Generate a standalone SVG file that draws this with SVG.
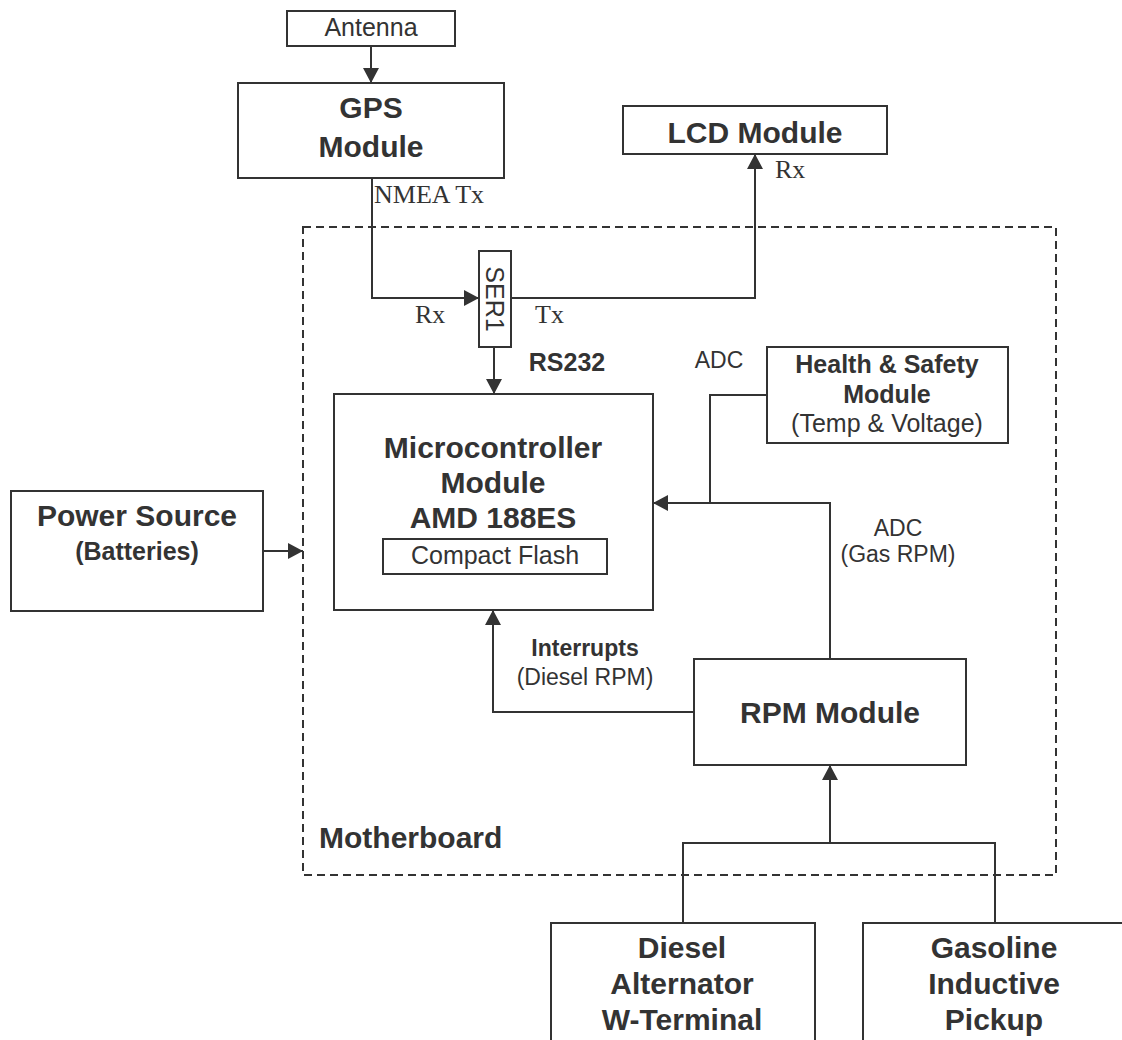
<svg xmlns="http://www.w3.org/2000/svg" width="1122" height="1040" viewBox="0 0 1122 1040">
<style>
.box{fill:#fff;stroke:#333;stroke-width:2}
.ln{fill:none;stroke:#333;stroke-width:2}
.dash{fill:none;stroke:#333;stroke-width:2;stroke-dasharray:8,5}
text{font-family:"Liberation Sans",Arial,sans-serif;fill:#333;text-anchor:middle}
.b{font-weight:bold;font-size:30px}
.bs{font-weight:bold;font-size:25px}
.r{font-size:25px}
.rs{font-size:23px}
.s{font-family:"Liberation Serif","Times New Roman",serif;font-size:26px;text-anchor:start}
</style>
<defs>
<marker id="ah" markerUnits="userSpaceOnUse" markerWidth="15" markerHeight="16" refX="15" refY="8" orient="auto">
<path d="M0,0 L15,8 L0,16 Z" fill="#333"/>
</marker>
</defs>
<g id="motherboard">
<rect class="dash" x="303" y="227" width="753" height="648"/>
<text class="b" x="319" y="848" style="text-anchor:start">Motherboard</text>
</g>
<g id="connectors">
<line class="ln" x1="371" y1="46" x2="371" y2="83" marker-end="url(#ah)"/>
<polyline class="ln" points="372,178 372,298 479,298" marker-end="url(#ah)"/>
<polyline class="ln" points="511,298 755,298 755,154" marker-end="url(#ah)"/>
<line class="ln" x1="494" y1="347" x2="494" y2="394" marker-end="url(#ah)"/>
<line class="ln" x1="263" y1="551" x2="303" y2="551" marker-end="url(#ah)"/>
<polyline class="ln" points="830,659 830,503 653,503" marker-end="url(#ah)"/>
<polyline class="ln" points="767,395 710,395 710,503"/>
<polyline class="ln" points="694,712 493,712 493,610" marker-end="url(#ah)"/>
<line class="ln" x1="830" y1="843" x2="830" y2="765" marker-end="url(#ah)"/>
<polyline class="ln" points="683,923 683,843 995,843 995,923"/>
<text class="s" x="374" y="203">NMEA Tx</text>
<text class="s" x="775" y="178">Rx</text>
<text class="s" x="415" y="323">Rx</text>
<text class="s" x="535" y="323">Tx</text>
<text class="bs" x="567" y="371">RS232</text>
<text class="rs" x="719" y="368">ADC</text>
<text class="rs" x="898" y="536">ADC</text>
<text class="rs" x="898" y="562">(Gas RPM)</text>
<text class="bs" x="585" y="656" style="font-size:23px">Interrupts</text>
<text class="rs" x="585" y="685">(Diesel RPM)</text>
</g>
<g id="antenna">
<rect class="box" x="287" y="11" width="168" height="35"/>
<text class="r" x="371" y="36">Antenna</text>
</g>
<g id="gps">
<rect class="box" x="238" y="83" width="266" height="95"/>
<text class="b" x="371" y="118">GPS</text>
<text class="b" x="371" y="157">Module</text>
</g>
<g id="lcd">
<rect class="box" x="623" y="106" width="264" height="48"/>
<text class="b" x="755" y="143">LCD Module</text>
</g>
<g id="ser1">
<rect class="box" x="479" y="251" width="32" height="96"/>
<text class="r" transform="translate(495,299) rotate(90)" y="9">SER1</text>
</g>
<g id="micro">
<rect class="box" x="334" y="394" width="319" height="216"/>
<text class="b" x="493" y="458">Microcontroller</text>
<text class="b" x="493" y="493">Module</text>
<text class="b" x="493" y="528">AMD 188ES</text>
<rect class="box" x="383" y="539" width="224" height="35"/>
<text class="r" x="495" y="564">Compact Flash</text>
</g>
<g id="health">
<rect class="box" x="767" y="347" width="241" height="96"/>
<text class="bs" x="887" y="373">Health &amp; Safety</text>
<text class="bs" x="887" y="403">Module</text>
<text class="r" x="887" y="432">(Temp &amp; Voltage)</text>
</g>
<g id="power">
<rect class="box" x="11" y="491" width="252" height="120"/>
<text class="b" x="137" y="526">Power Source</text>
<text class="bs" x="137" y="560">(Batteries)</text>
</g>
<g id="rpm">
<rect class="box" x="694" y="659" width="272" height="106"/>
<text class="b" x="830" y="723">RPM Module</text>
</g>
<g id="diesel">
<rect class="box" x="551" y="923" width="264" height="130"/>
<text class="b" x="682" y="958">Diesel</text>
<text class="b" x="682" y="994">Alternator</text>
<text class="b" x="682" y="1030">W-Terminal</text>
</g>
<g id="gasoline">
<rect class="box" x="863" y="923" width="270" height="130"/>
<text class="b" x="994" y="958">Gasoline</text>
<text class="b" x="994" y="994">Inductive</text>
<text class="b" x="994" y="1030">Pickup</text>
</g>
</svg>
